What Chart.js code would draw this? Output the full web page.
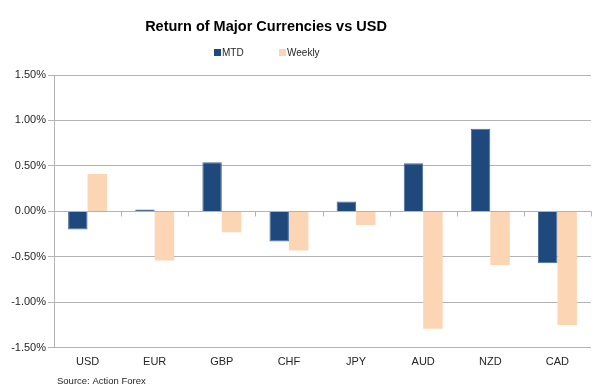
<!DOCTYPE html>
<html>
<head>
<meta charset="utf-8">
<script src="https://cdn.jsdelivr.net/npm/chart.js@4"></script>
<style>
  html, body { margin: 0; padding: 0; background: #fff; }
  #wrap { width: 600px; height: 384px; }
</style>
</head>
<body>
<div id="wrap"><canvas id="fxChart" width="600" height="384"></canvas></div>
<script>
// currencies and returns (%)
const currencies = ['USD', 'EUR', 'GBP', 'CHF', 'JPY', 'AUD', 'NZD', 'CAD'];
const mtd = [-0.20, 0.02, 0.54, -0.33, 0.11, 0.53, 0.91, -0.57];
const weekly = [0.41, -0.54, -0.23, -0.43, -0.15, -1.29, -0.59, -1.25];
const yTicks = [-1.5, -1.0, -0.5, 0, 0.5, 1.0, 1.5];

const chartTitle = 'Return of Major Currencies vs USD';
const sourceText = 'Source: Action Forex';

const gridGrey = '#b3b3b3';
const textGrey = '#262626';
const FONT = '"Liberation Sans", Arial, sans-serif';

// small tick marks along the zero line, between categories (Excel style)
const zeroTicks = {
    id: 'zeroTicks',
    afterDatasetsDraw(chart) {
        const x = chart.scales.x, y = chart.scales.y;
        const y0 = y.getPixelForValue(0);
        const ctx = chart.ctx;
        ctx.save();
        ctx.strokeStyle = gridGrey;
        ctx.lineWidth = 1;
        for (let i = 1; i <= currencies.length; i++) {
            const px = Math.round(x.left + i * (x.width / currencies.length)) + 0.5;
            ctx.beginPath();
            ctx.moveTo(px, y0);
            ctx.lineTo(px, y0 + 5);
            ctx.stroke();
        }
        ctx.restore();
    }
};

// title + legend sit left of centre in the original, so draw them by hand
const excelHeader = {
    id: 'excelHeader',
    afterDraw(chart) {
        const ctx = chart.ctx;
        ctx.save();
        ctx.fillStyle = '#000';
        ctx.font = 'bold 14.5px ' + FONT;
        ctx.textAlign = 'center';
        ctx.textBaseline = 'middle';
        ctx.fillText(chartTitle, 266, 27);

        ctx.textAlign = 'left';
        ctx.font = '10px ' + FONT;
        const starts = [214, 279];
        chart.data.datasets.forEach((ds, i) => {
            ctx.fillStyle = ds.backgroundColor;
            ctx.fillRect(starts[i], 49, 7, 7);
            ctx.fillStyle = textGrey;
            ctx.fillText(ds.label, starts[i] + 8, 53);
        });

        ctx.font = '9.5px ' + FONT;
        ctx.textBaseline = 'top';
        ctx.fillStyle = textGrey;
        ctx.fillText(sourceText, 57, 377);
        ctx.restore();
    }
};

new Chart(document.getElementById('fxChart'), {
    type: 'bar',
    data: {
        labels: currencies,
        datasets: [{
            label: 'MTD',
            data: mtd,
            backgroundColor: '#1f497d',
            borderColor: '#4a6d99',
            borderWidth: 1,
            borderSkipped: 'start',
        }, {
            label: 'Weekly',
            data: weekly,
            backgroundColor: '#fcd5b5',
            borderWidth: 0,
        }]
    },
    options: {
        responsive: false,
        animation: false,
        devicePixelRatio: 1,
        layout: { padding: { left: 8, right: 9, top: 75, bottom: 7 } },
        datasets: {
            bar: { categoryPercentage: 0.58, barPercentage: 1.0 }
        },
        plugins: {
            title: { display: false },
            legend: { display: false },
            tooltip: { enabled: false }
        },
        scales: {
            x: {
                grid: { display: false, drawTicks: false },
                border: { display: false },
                ticks: {
                    color: textGrey,
                    padding: 8,
                    font: { family: FONT, size: 11 }
                }
            },
            y: {
                min: -1.5,
                max: 1.5,
                afterBuildTicks(axis) { axis.ticks = yTicks.map(v => ({ value: v })); },
                afterFit(axis) { axis.width = 46; },
                grid: { color: gridGrey, tickLength: 6 },
                border: { display: true, color: gridGrey },
                ticks: {
                    color: textGrey,
                    padding: 2,
                    font: { family: FONT, size: 11 },
                    callback: v => v.toFixed(2) + '%'
                }
            }
        }
    },
    plugins: [zeroTicks, excelHeader]
});
</script>
</body>
</html>
